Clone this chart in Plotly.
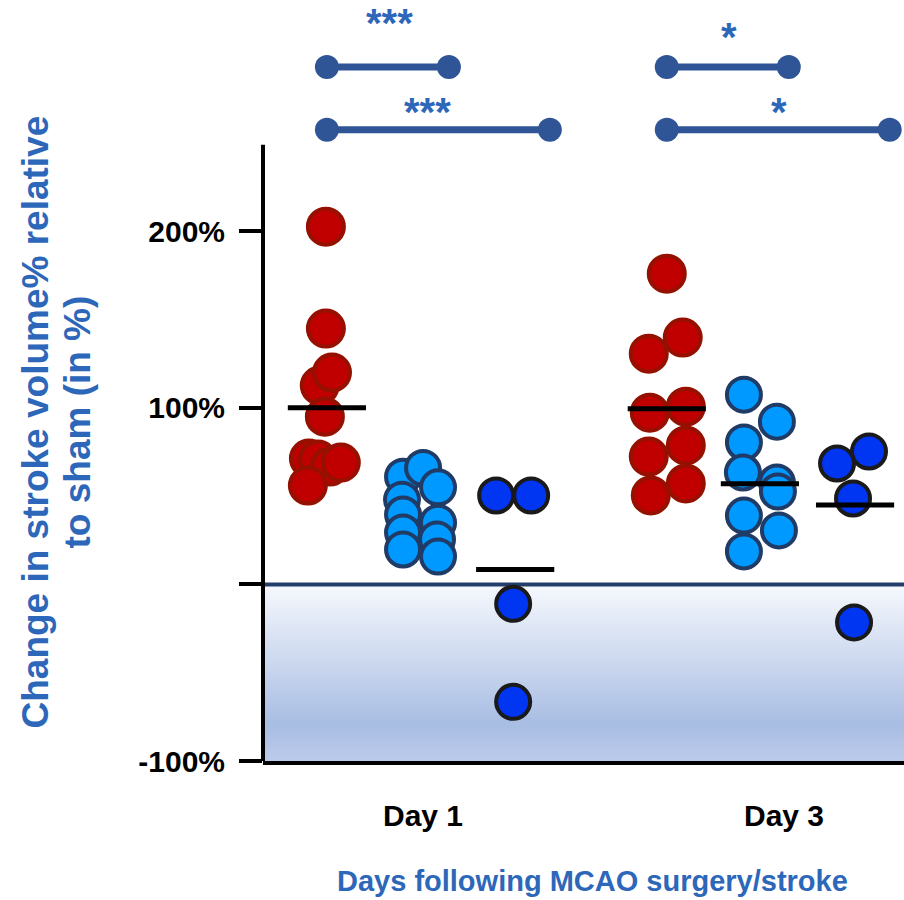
import plotly.graph_objects as go

# ---------------- data ----------------
days = ["Day 1", "Day 3"]
day_pos = [0.0, 1.0]
group_offsets = [-0.274, 0.0, 0.28]

# values (%) per day, per group (red, light blue, blue)
day1_red = [202.6, 144.9, 112.6, 120.0, 95.0, 71.3, 70.7, 66.8, 69.0, 56.0]
day1_lblue = [61.0, 66.0, 55.0, 48.0, 39.6, 35.0, 29.4, 25.5, 19.8, 15.8]
day1_blue = [50.4, 50.4, -11.0, -66.5]
day3_red = [176.0, 139.8, 130.7, 97.3, 100.7, 72.4, 78.7, 50.4, 57.2]
day3_lblue = [107.5, 92.2, 80.4, 63.4, 57.7, 52.6, 39.0, 30.6, 18.7]
day3_blue = [68.5, 75.3, 48.7, -21.5]

# group mean bars as drawn (None = not visible)
day1_means = [100.0, None, 8.5]
day3_means = [99.5, 57.0, 45.0]

# horizontal swarm spread of each point (in day units)
day1_red_jit = [-0.003, -0.003, -0.021, 0.015, -0.006, -0.053, -0.026, 0.009, 0.041, -0.056]
day1_lblue_jit = [-0.05, 0.009, 0.053, -0.053, -0.05, 0.053, -0.05, 0.05, -0.05, 0.053]
day1_blue_jit = [-0.056, 0.047, -0.006, -0.006]
day3_red_jit = [0.0, 0.047, -0.053, -0.05, 0.056, -0.053, 0.056, -0.047, 0.056]
day3_lblue_jit = [-0.047, 0.05, -0.047, -0.05, 0.05, 0.053, -0.047, 0.056, -0.047]
day3_blue_jit = [-0.053, 0.041, -0.006, -0.003]

values = [[day1_red, day1_lblue, day1_blue], [day3_red, day3_lblue, day3_blue]]
jitters = [[day1_red_jit, day1_lblue_jit, day1_blue_jit],
           [day3_red_jit, day3_lblue_jit, day3_blue_jit]]
means = [day1_means, day3_means]

# significance comparisons
sig_x0 = [-0.274, -0.274, 0.726, 0.726]
sig_x1 = [0.085, 0.382, 1.085, 1.382]
sig_y = [293.0, 257.5, 293.0, 257.5]
sig_text = ["***", "***", "*", "*"]
sig_text_x = [-0.091, 0.021, 0.909, 1.056]
sig_text_y = [318.0, 267.5, 310.0, 267.5]

y_ticks = [-100, 0, 100, 200]
y_ticktext = ["-100%", "", "100%", "200%"]
day_label_x = [0.01, 1.071]
y_axis_top = 249

# ---------------- styles ----------------
fills = ["#C00000", "#0099FF", "#0035F2"]
borders = ["#961000", "#1F3B66", "#1A1A1A"]
msizes = [36, 34, 34]
sig_color = "#2F5597"
title_color = "#2D67B9"
FONT = "Liberation Sans, Arial, sans-serif"

# page geometry
PLOT_L, PLOT_R, PLOT_T, PLOT_B = 263, 904, 0, 761
def px_x(p):
    return (p - PLOT_L) / (PLOT_R - PLOT_L)
def px_y(p):
    return (PLOT_B - p) / (PLOT_B - PLOT_T)

fig = go.Figure()

# gradient shading below zero
n = 50
def lerp(a, b, t):
    return tuple(int(round(a[i] + (b[i] - a[i]) * t)) for i in range(3))
c_top = (247, 249, 253)
c_mid = (168, 189, 227)
c_bot = (188, 203, 234)
for i in range(n):
    t = (i + 0.5) / n
    if t < 0.8:
        c = lerp(c_top, c_mid, t / 0.8)
    else:
        c = lerp(c_mid, c_bot, (t - 0.8) / 0.2)
    y1 = min(0, 0 - 100 * i / n + 0.6)
    y0 = 0 - 100 * (i + 1) / n
    fig.add_shape(type="rect", xref="paper", yref="y", x0=0, x1=1, y0=y0, y1=y1,
                  fillcolor="rgb(%d,%d,%d)" % c, line_width=0, layer="below")

# zero line
fig.add_shape(type="line", xref="paper", yref="y", x0=0, x1=1, y0=0, y1=0,
              line=dict(color="#243E6B", width=4), layer="below")
# y axis line (only up to top of data range)
fig.add_shape(type="line", xref="paper", yref="y", x0=0, x1=0, y0=-100, y1=y_axis_top,
              line=dict(color="black", width=4))

# points and mean lines
for d in range(2):
    for g in range(3):
        vals = values[d][g]
        xs = [day_pos[d] + group_offsets[g] + j for j in jitters[d][g]]
        fig.add_trace(go.Scatter(
            x=xs, y=vals, mode="markers", showlegend=False, hoverinfo="skip",
            marker=dict(size=msizes[g], color=fills[g],
                        line=dict(color=borders[g], width=4))))
        m = means[d][g]
        if m is not None:
            cx = day_pos[d] + group_offsets[g]
            fig.add_trace(go.Scatter(
                x=[cx - 0.115, cx + 0.115], y=[m, m], mode="lines",
                showlegend=False, hoverinfo="skip",
                line=dict(color="black", width=5)))

# significance bars
for i in range(len(sig_x0)):
    fig.add_trace(go.Scatter(
        x=[sig_x0[i], sig_x1[i]], y=[sig_y[i], sig_y[i]], mode="lines+markers",
        showlegend=False, hoverinfo="skip", cliponaxis=False,
        line=dict(color=sig_color, width=7),
        marker=dict(size=24, color=sig_color)))
    fig.add_annotation(x=sig_text_x[i], y=sig_text_y[i], text="<b>%s</b>" % sig_text[i],
                       showarrow=False, xanchor="center", yanchor="middle",
                       font=dict(family=FONT, size=40, color=title_color))

# day labels
for i, lab in enumerate(days):
    fig.add_annotation(x=day_label_x[i], y=px_y(815), xref="x", yref="paper",
                       text="<b>%s</b>" % lab, showarrow=False,
                       xanchor="center", yanchor="middle",
                       font=dict(family=FONT, size=30, color="black"))

# axis titles
fig.add_annotation(x=px_x(592), y=px_y(899), xref="paper", yref="paper",
                   text="<b>Days following MCAO surgery/stroke</b>", showarrow=False,
                   xanchor="center", yanchor="bottom",
                   font=dict(family=FONT, size=29, color=title_color))
fig.add_annotation(x=px_x(35), y=px_y(422.5), xref="paper", yref="paper",
                   text="<b>Change in stroke volume% relative</b>", showarrow=False,
                   textangle=-90, xanchor="center", yanchor="middle",
                   font=dict(family=FONT, size=37, color=title_color))
fig.add_annotation(x=px_x(77), y=px_y(422.5), xref="paper", yref="paper",
                   text="<b>to sham (in %)</b>", showarrow=False,
                   textangle=-90, xanchor="center", yanchor="middle",
                   font=dict(family=FONT, size=37, color=title_color))

fig.update_layout(
    width=904, height=900,
    margin=dict(l=263, r=0, t=0, b=139),
    paper_bgcolor="white", plot_bgcolor="white",
    xaxis=dict(range=[-0.462, 1.424], showgrid=False, zeroline=False,
               showticklabels=False, ticks="", showline=True,
               linecolor="black", linewidth=4),
    yaxis=dict(range=[-100, 331.0], showgrid=False, zeroline=False,
               showline=False, tickvals=y_ticks, ticktext=y_ticktext,
               ticks="outside", ticklen=23, tickwidth=4, tickcolor="black",
               ticklabelstandoff=8,
               tickfont=dict(family=FONT, size=30, color="black", weight="bold")),
)

fig.write_html("out.html", config={"displayModeBar": False},
               post_script="document.body.style.margin='0';document.body.style.overflow='hidden';")
